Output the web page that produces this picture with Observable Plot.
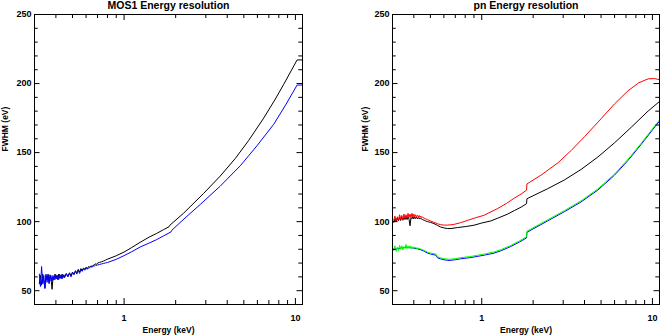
<!DOCTYPE html>
<html><head><meta charset="utf-8">
<script src="https://cdn.jsdelivr.net/npm/d3@7"></script>
<script src="https://cdn.jsdelivr.net/npm/@observablehq/plot@0.6"></script>
<style>
body{margin:0;background:#fff;}
#wrap{display:flex;width:660px;height:336px;background:#fff;}
svg{overflow:visible;}
</style></head><body><div id="wrap"></div>
<script>
// ---- tick values ----
const xMajor = [1, 10];
const xMinor = [0.4, 0.5, 0.6, 0.7, 0.8, 0.9, 2, 3, 4, 5, 6, 7, 8, 9];
const yMajor = [50, 100, 150, 200, 250];
const yMinor = [60, 70, 80, 90, 110, 120, 130, 140, 160, 170, 180, 190, 210, 220, 230, 240];

// ---- MOS1 panel ----
const mosBlackE = [0.32,0.325,0.33,0.335,0.34,0.345,0.35,0.355,0.36,0.365,0.37,0.375,0.38,0.385,0.39,0.395,0.40,0.405,0.41,0.415,0.42,0.425,0.43,0.435,0.44,0.445,0.45,
  0.46,0.47,0.48,0.49,0.50,0.51,0.52,0.53,0.54,0.55,0.56,0.57,0.58,0.59,0.60,0.61,0.62,0.63,0.64,0.65,0.66,0.67,0.68,0.69,0.70,0.72,0.74,0.76,0.78,0.80,
  0.9,1.0,1.1,1.24,1.4,1.55,1.7,1.83,1.85,2.22,2.91,3.64,4.46,5.33,6.53,7.64,8.55,10.23,11];
const mosBlackV = [55,61,54,62,57,52,61,58,62,56,61,58,51,60,58,62,59,61,58,62,59,61,59,62,60,61.5,59.5,
  62.5,60.5,63,61,63.5,62,64.5,63,65.5,63.5,66,64.5,66.5,65.5,67,66,67.5,67,68,67.5,68.5,68.5,69.5,69,70,70.5,71,71.5,72.2,72.8,
  75.3,78,81,85,88.8,91.5,94.2,96.3,97.4,106,120.4,133,145.8,158.7,175,188.8,199.5,217.1,217.1];

const mosBlueE = [0.32,0.325,0.33,0.335,0.34,0.345,0.35,0.355,0.36,0.365,0.37,0.375,0.38,0.385,0.39,0.395,0.40,0.405,0.41,0.415,0.42,0.425,0.43,0.435,0.44,0.445,0.45,
  0.46,0.47,0.48,0.49,0.50,0.51,0.52,0.53,0.54,0.55,0.56,0.57,0.58,0.59,0.60,0.61,0.62,0.63,0.64,0.65,0.66,0.67,0.68,0.69,0.70,0.72,0.74,0.76,0.78,0.80,
  0.9,1.0,1.1,1.24,1.4,1.55,1.7,1.88,1.9,2.24,2.78,3.64,4.77,5.97,7.47,8.75,10.23,11];
const mosBlueV = [62,53,67.5,55,61,51.5,62,56,61,55,61.5,57,61,57.5,61,58,61.5,58.5,61,58,62,59,61.5,58.5,61.5,59.5,61,
  62,60,62.5,60,63,61.5,64,62,64.5,62.5,65,64,66,64.8,66.5,65.5,66.5,66.5,67.5,67,67.8,67.8,68.5,68.2,68.6,69,69.4,69.8,70.1,70.4,
  72.7,75.4,78,81.6,84.5,87,89.7,92.6,93.8,102,112.4,125.7,140.5,155,170.5,184.3,198.9,198.9];

// ---- pn panel ----
const pnRedE = [0.305,0.31,0.315,0.32,0.325,0.33,0.335,0.34,0.345,0.35,0.355,0.36,0.365,0.37,0.375,0.38,0.385,0.39,0.395,0.40,0.405,0.41,0.415,0.42,0.425,0.43,0.435,0.44,0.445,0.45,
  0.46,0.47,0.48,0.49,0.50,0.525,0.55,0.574,0.6,0.628,0.66,0.687,0.75,0.824,0.92,1.03,1.24,1.4,1.55,1.7,1.83,1.84,2.22,2.79,3.34,4.0,5.01,6.0,7.2,8.3,9.44,10.3,11];
const pnRedV = [101,104,100.5,103.5,101,105,102,104.5,101.5,105.5,102.5,105,102.5,106,103,105.5,103,106,103.5,105.5,103.5,105,103.5,104.5,103.5,104.5,103,104,102.8,103.2,
  102.5,102,101.5,101,100.5,99.5,98.5,97.8,97.5,97.5,97.7,98,99.2,100.9,102.8,104.6,109.5,113.3,117,120,122.8,127.3,133.6,142.5,151.5,161.5,174.6,185.3,194.8,200.5,203.4,203.6,202.8];

const pnBlackE = [0.305,0.31,0.315,0.32,0.325,0.33,0.335,0.34,0.345,0.35,0.355,0.36,0.365,0.37,0.375,0.38,0.385,0.39,0.395,0.40,0.405,0.41,0.415,0.42,0.425,0.43,0.435,0.44,0.445,0.45,
  0.46,0.47,0.48,0.49,0.50,0.525,0.55,0.574,0.6,0.628,0.66,0.72,0.8,0.9,1.0,1.13,1.24,1.42,1.55,1.7,1.83,1.84,2.43,3.05,3.82,4.79,6.0,7.52,9.44,11];
const pnBlackV = [99.5,102,100,102.5,100.5,103,100.8,103.5,101,103,101.5,103.5,101.5,103.5,101.8,97,103,102,103.8,102,103.5,102.2,103.3,102,103,102,102.5,101.8,102,101.5,
  101,100.5,100,99.8,99.5,98.6,97.3,96.1,95.5,95,95,95.7,96.4,97.4,99,100.5,102.5,105.5,108,110.5,113,116.6,123.8,130.2,137.8,146.8,157.1,168.4,180.1,187];

const pnGreenE = [0.305,0.31,0.315,0.32,0.325,0.33,0.335,0.34,0.345,0.35,0.355,0.36,0.365,0.37,0.375,0.38,0.385,0.39,0.395,0.40,0.405,0.41,0.415,0.42,0.425,0.43,0.435,0.44,0.445,0.45,
  0.46,0.47,0.48,0.49,0.50,0.525,0.54,0.55,0.575,0.6,0.643,0.7,0.752,0.85,0.94,1.05,1.18,1.3,1.48,1.66,1.83,1.84,2.43,3.05,3.82,4.79,6.0,7.2,8.61,9.87,11];
const pnGreenV = [80,82.5,78.5,81.5,79,83,80,82.5,79.5,82,80.5,83.5,80.5,82.5,80.5,82.5,80.5,82,80.8,81.8,80.6,81.5,80.6,81.2,80.5,80.8,80.2,80.3,79.8,79.7,
  79.2,78.6,78,77.6,77.3,76.8,76.5,74.6,73.8,73.2,72.7,73.2,73.9,74.7,75.6,76.7,78,79.8,82.8,86,89,93.1,101.3,108,115.1,123.7,134.5,145.2,156.9,166.3,173.6];

const pnBlueE = [0.305,0.32,0.34,0.36,0.38,0.40,0.42,0.44,0.46,0.48,0.50,0.525,0.54,0.55,0.575,0.6,0.643,0.7,0.752,0.85,0.94,1.05,1.18,1.3,1.48,1.66,1.83,1.84,2.43,3.05,3.82,4.79,6.0,7.2,8.61,9.87,11];
const pnBlueV = [79.5,80.5,81,81.5,81.2,80.8,80.3,79.6,78.6,77.3,76.6,76,75.7,73.8,73,72.4,71.9,72.4,73.1,73.9,74.8,75.9,77.2,79,82,85.2,88.2,92.3,100.5,107.2,114.3,122.9,133.7,144.4,156.1,165.5,172.8];

const toRows = (E, V) => E.map((e, i) => ({e, v: V[i]}));

const FONT = "'Liberation Sans', Arial, Helvetica, sans-serif";

function panel({title, series, marginLeft, marginRight, ylabelDx}) {
  const W = 330, H = 336, mt = 14, mb = 32;
  const fw = W - marginLeft - marginRight, fh = H - mt - mb;
  return Plot.plot({
    width: W, height: H, marginLeft, marginRight, marginTop: mt, marginBottom: mb,
    style: {fontFamily: FONT, background: "white", color: "black"},
    x: {type: "log", domain: [0.3, 11]},
    y: {domain: [40, 250]},
    marks: [
      ...series.map(s => Plot.line(toRows(s.E, s.V), {x: "e", y: "v", stroke: s.color, strokeWidth: 1})),
      Plot.tickX(xMajor, {x: d => d, insetBottom: fh - 6, stroke: "black"}),
      Plot.tickX(xMajor, {x: d => d, insetTop: fh - 6, stroke: "black"}),
      Plot.tickX(xMinor, {x: d => d, insetBottom: fh - 4, stroke: "black"}),
      Plot.tickX(xMinor, {x: d => d, insetTop: fh - 4, stroke: "black"}),
      Plot.tickY(yMajor, {y: d => d, insetRight: fw - 5.5, stroke: "black"}),
      Plot.tickY(yMajor, {y: d => d, insetLeft: fw - 5.5, stroke: "black"}),
      Plot.tickY(yMinor, {y: d => d, insetRight: fw - 3.7, stroke: "black"}),
      Plot.tickY(yMinor, {y: d => d, insetLeft: fw - 3.7, stroke: "black"}),
      Plot.frame({stroke: "black"}),
      Plot.axisX({ticks: xMajor, tickSize: 0, tickPadding: 10, tickFormat: d => String(d), fontSize: 9, fontWeight: "bold", label: null}),
      Plot.axisY({ticks: yMajor, tickSize: 0, tickPadding: 3, tickFormat: d => String(d), fontSize: 9, fontWeight: "bold", label: null}),
      Plot.text([title], {frameAnchor: "top", lineAnchor: "middle", dy: -9, fontSize: 10.5, fontWeight: "bold"}),
      Plot.text(["Energy (keV)"], {frameAnchor: "bottom", lineAnchor: "middle", dy: 26, fontSize: 8.5, fontWeight: "bold"}),
      Plot.text(["FWHM (eV)"], {frameAnchor: "left", lineAnchor: "middle", dx: ylabelDx, dy: -8, rotate: -90, fontSize: 8.5, fontWeight: "bold"})
    ]
  });
}

const wrap = document.getElementById("wrap");
wrap.append(panel({
  title: "MOS1 Energy resolution",
  marginLeft: 34, marginRight: 28, ylabelDx: -29,
  series: [
    {E: mosBlackE, V: mosBlackV, color: "black"},
    {E: mosBlueE, V: mosBlueV, color: "#0000ff"}
  ]
}));
wrap.append(panel({
  title: "pn Energy resolution",
  marginLeft: 62, marginRight: 1, ylabelDx: -27,
  series: [
    {E: pnBlackE, V: pnBlackV, color: "black"},
    {E: pnRedE, V: pnRedV, color: "#ff0000"},
    {E: pnBlueE, V: pnBlueV, color: "#0000ff"},
    {E: pnGreenE, V: pnGreenV, color: "#00ff00"}
  ]
}));
</script></body></html>
